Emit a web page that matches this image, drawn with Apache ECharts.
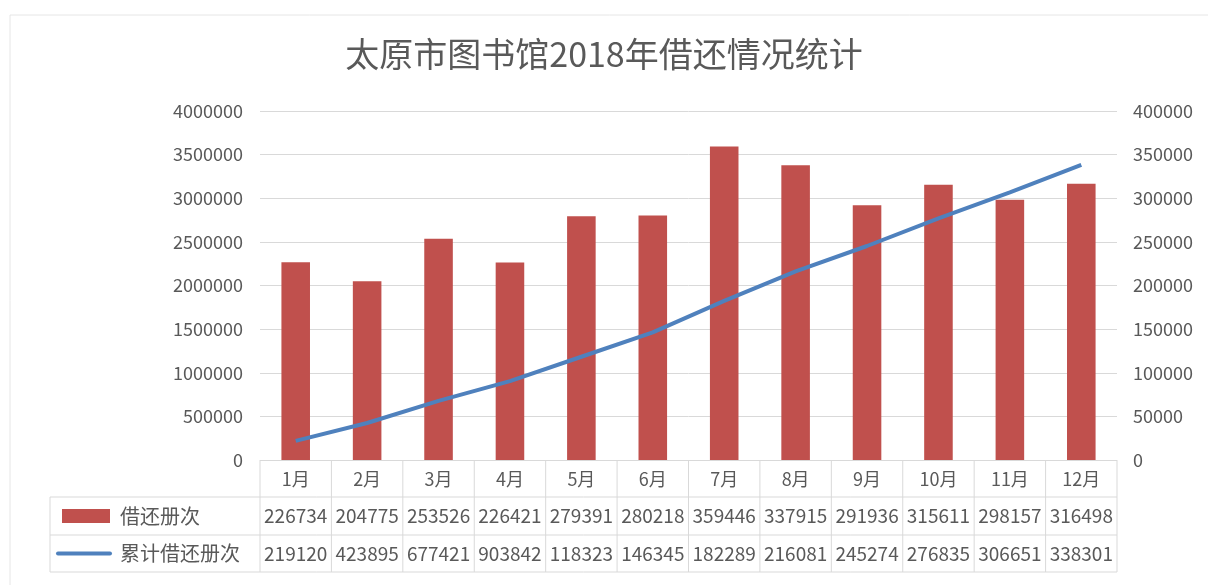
<!DOCTYPE html>
<html>
<head>
<meta charset="utf-8">
<script src="https://cdn.jsdelivr.net/npm/echarts@6/dist/echarts.min.js"></script>
<style>
  html, body { margin: 0; padding: 0; background: #fff; }
  #main { width: 1208px; height: 585px; }
</style>
</head>
<body>
<div id="main"></div>
<script>
var months = ['1月', '2月', '3月', '4月', '5月', '6月', '7月', '8月', '9月', '10月', '11月', '12月'];
var borrowCounts = [226734, 204775, 253526, 226421, 279391, 280218, 359446, 337915, 291936, 315611, 298157, 316498];
var cumulativeCounts = [219120, 423895, 677421, 903842, 1183230, 1463450, 1822890, 2160810, 2452740, 2768350, 3066510, 3383010];
var leftTicks = { min: 0, max: 4000000, interval: 500000 };
var rightTicks = { min: 0, max: 400000, interval: 50000 };
var seriesNames = ['借还册次', '累计借还册次'];

var textColor = '#595959';
var gridColor = '#D9D9D9';
var font = '"Noto Sans CJK SC", "Noto Sans", sans-serif';

var chart = echarts.init(document.getElementById('main'));

function plain(v) {
    return String(v);
}

const option = {
    animation: false,
    title: {
        text: '太原市图书馆2018年借还情况统计',
        left: 'center',
        top: 32,
        textStyle: { fontSize: 34, fontWeight: 'normal', color: textColor, fontFamily: font }
    },
    grid: { left: 260, right: 91, top: 111, bottom: 125 },
    xAxis: {
        type: 'category',
        data: months,
        axisLine: { show: false },
        axisTick: { show: false },
        axisLabel: { color: textColor, fontSize: 18, fontFamily: font, margin: 10 }
    },
    yAxis: [
        {
            type: 'value',
            min: leftTicks.min,
            max: leftTicks.max,
            interval: leftTicks.interval,
            axisLine: { show: false },
            axisTick: { show: false },
            axisLabel: { color: textColor, fontSize: 18, fontFamily: font, margin: 17, formatter: plain },
            splitLine: { lineStyle: { color: gridColor, width: 1 } }
        },
        {
            type: 'value',
            min: rightTicks.min,
            max: rightTicks.max,
            interval: rightTicks.interval,
            axisLine: { show: false },
            axisTick: { show: false },
            axisLabel: { color: textColor, fontSize: 18, fontFamily: font, margin: 16, formatter: plain },
            splitLine: { show: false }
        }
    ],
    series: [
        {
            name: seriesNames[0],
            type: 'bar',
            yAxisIndex: 1,
            barWidth: '40%',
            itemStyle: { color: '#C0504D' },
            data: borrowCounts
        },
        {
            name: seriesNames[1],
            type: 'line',
            yAxisIndex: 0,
            symbol: 'none',
            lineStyle: { color: '#4F81BD', width: 4 },
            data: cumulativeCounts,
            z: 5
        }
    ]
};
chart.setOption(option);

// data table under the plot, placed from the category axis
var x0 = chart.convertToPixel({ xAxisIndex: 0 }, 0);
var x1 = chart.convertToPixel({ xAxisIndex: 0 }, 1);
var band = x1 - x0;
var tableLeft = x0 - band / 2;
var tableRight = tableLeft + band * months.length;
var yZero = chart.convertToPixel({ yAxisIndex: 0 }, 0);
var rowTop = [yZero, yZero + 37, yZero + 75, yZero + 112];
var legendLeft = 50;

var els = [];
function hline(xa, xb, y) {
    els.push({ type: 'line', shape: { x1: xa, y1: y, x2: xb, y2: y }, style: { stroke: gridColor, lineWidth: 1 } });
}
function vline(x, ya, yb) {
    els.push({ type: 'line', shape: { x1: x, y1: ya, x2: x, y2: yb }, style: { stroke: gridColor, lineWidth: 1 } });
}
hline(legendLeft, tableRight, rowTop[1]);
hline(legendLeft, tableRight, rowTop[2]);
hline(legendLeft, tableRight, rowTop[3]);
vline(legendLeft, rowTop[1], rowTop[3]);
for (var i = 0; i <= months.length; i++) {
    vline(tableLeft + band * i, rowTop[0], rowTop[3]);
}
var rows = [borrowCounts, cumulativeCounts];
for (var r = 0; r < 2; r++) {
    var cy = (rowTop[r + 1] + rowTop[r + 2]) / 2;
    for (var j = 0; j < months.length; j++) {
        els.push({
            type: 'text',
            x: tableLeft + band * j + band / 2,
            y: cy,
            style: {
                text: String(rows[r][j]).slice(0, 6),
                font: '19px ' + font,
                fill: textColor,
                align: 'center',
                verticalAlign: 'middle'
            }
        });
    }
    els.push({
        type: 'text',
        x: 120,
        y: cy,
        style: { text: seriesNames[r], font: '20px ' + font, fill: textColor, verticalAlign: 'middle' }
    });
}
var cy1 = (rowTop[1] + rowTop[2]) / 2;
var cy2 = (rowTop[2] + rowTop[3]) / 2;
els.push({ type: 'rect', shape: { x: 62, y: cy1 - 7, width: 48, height: 14 }, style: { fill: '#C0504D' } });
els.push({ type: 'line', shape: { x1: 58, y1: cy2, x2: 110, y2: cy2 }, style: { stroke: '#4F81BD', lineWidth: 4, lineCap: 'round' } });
els.push({ type: 'rect', shape: { x: 10, y: 15, width: 1220, height: 600 }, style: { fill: 'none', stroke: '#E6E6E6', lineWidth: 1 } });

chart.setOption({ graphic: { elements: els } });
</script>
</body>
</html>
